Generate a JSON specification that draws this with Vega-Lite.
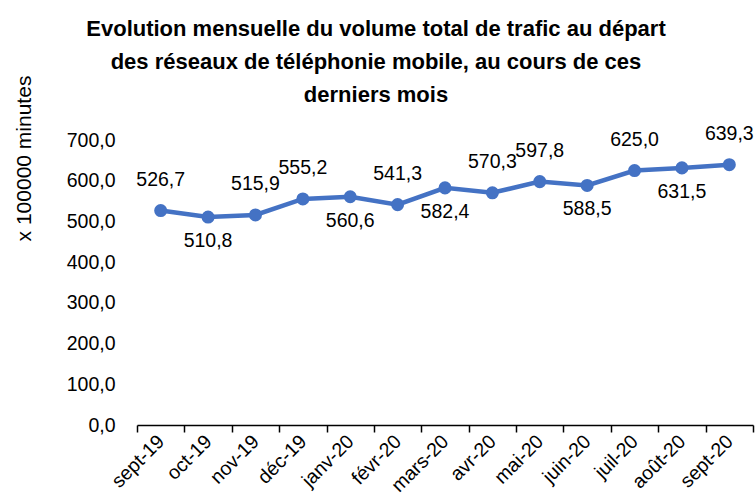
{
  "$schema": "https://vega.github.io/schema/vega-lite/v6.json",
  "width": 616,
  "height": 285,
  "autosize": {"type": "none"},
  "padding": {"left": 137, "top": 140, "right": 2, "bottom": 77},
  "background": "white",
  "config": {
    "locale": {"number": {"decimal": ",", "thousands": " ", "grouping": [3], "currency": ["", " €"]}},
    "view": {"stroke": null},
    "font": "Liberation Sans"
  },
  "title": {
    "text": ["Evolution mensuelle du volume total de trafic au départ", "des réseaux de téléphonie mobile, au cours de ces", "derniers mois"],
    "fontSize": 22,
    "fontWeight": "bold",
    "color": "#000000",
    "lineHeight": 33,
    "anchor": "middle",
    "frame": "group",
    "dx": -69,
    "dy": 72,
    "offset": 40
  },
  "data": {
    "values": [
      {"mois": "sept-19", "volume": 526.7},
      {"mois": "oct-19", "volume": 510.8},
      {"mois": "nov-19", "volume": 515.9},
      {"mois": "déc-19", "volume": 555.2},
      {"mois": "janv-20", "volume": 560.6},
      {"mois": "févr-20", "volume": 541.3},
      {"mois": "mars-20", "volume": 582.4},
      {"mois": "avr-20", "volume": 570.3},
      {"mois": "mai-20", "volume": 597.8},
      {"mois": "juin-20", "volume": 588.5},
      {"mois": "juil-20", "volume": 625.0},
      {"mois": "août-20", "volume": 631.5},
      {"mois": "sept-20", "volume": 639.3}
    ]
  },
  "encoding": {
    "x": {
      "field": "mois",
      "type": "ordinal",
      "sort": null,
      "bandPosition": 0.5,
      "scale": {"type": "band", "paddingInner": 0, "paddingOuter": 0},
      "axis": {
        "title": null,
        "tickBand": "extent",
        "labelAngle": -45,
        "labelAlign": "right",
        "labelBaseline": "middle",
        "labelFontSize": 19.5,
        "labelColor": "#000000",
        "labelPadding": 6,
        "domainColor": "#000000",
        "domainWidth": 1.5,
        "tickColor": "#000000",
        "tickWidth": 1.5,
        "tickSize": 7,
        "grid": false
      }
    },
    "y": {
      "field": "volume",
      "type": "quantitative",
      "scale": {"domain": [0, 700]},
      "axis": {
        "title": "x 100000 minutes",
        "titleFontSize": 21,
        "titleFontWeight": "normal",
        "titleColor": "#000000",
        "titleAnchor": null,
        "titleAngle": -90,
        "titleAlign": "center",
        "titleBaseline": "middle",
        "titleX": -113,
        "titleY": 18,
        "values": [0, 100, 200, 300, 400, 500, 600, 700],
        "format": ".1f",
        "labelFontSize": 19.5,
        "labelColor": "#000000",
        "labelPadding": 22,
        "domain": false,
        "ticks": false,
        "grid": false
      }
    }
  },
  "layer": [
    {"mark": {"type": "line", "color": "#4472C4", "strokeWidth": 4.5}},
    {"mark": {"type": "point", "filled": true, "opacity": 1, "color": "#4472C4", "size": 170, "shape": "circle"}},
    {
      "transform": [{"filter": {"field": "mois", "oneOf": ["sept-19", "nov-19", "déc-19", "févr-20", "avr-20", "mai-20", "juil-20", "sept-20"]}}],
      "mark": {"type": "text", "fontSize": 19.5, "color": "#000000", "baseline": "middle", "dy": -31},
      "encoding": {"text": {"field": "volume", "type": "quantitative", "format": ".1f"}}
    },
    {
      "transform": [{"filter": {"field": "mois", "oneOf": ["oct-19", "janv-20", "mars-20", "juin-20", "août-20"]}}],
      "mark": {"type": "text", "fontSize": 19.5, "color": "#000000", "baseline": "middle", "dy": 24},
      "encoding": {"text": {"field": "volume", "type": "quantitative", "format": ".1f"}}
    }
  ]
}
